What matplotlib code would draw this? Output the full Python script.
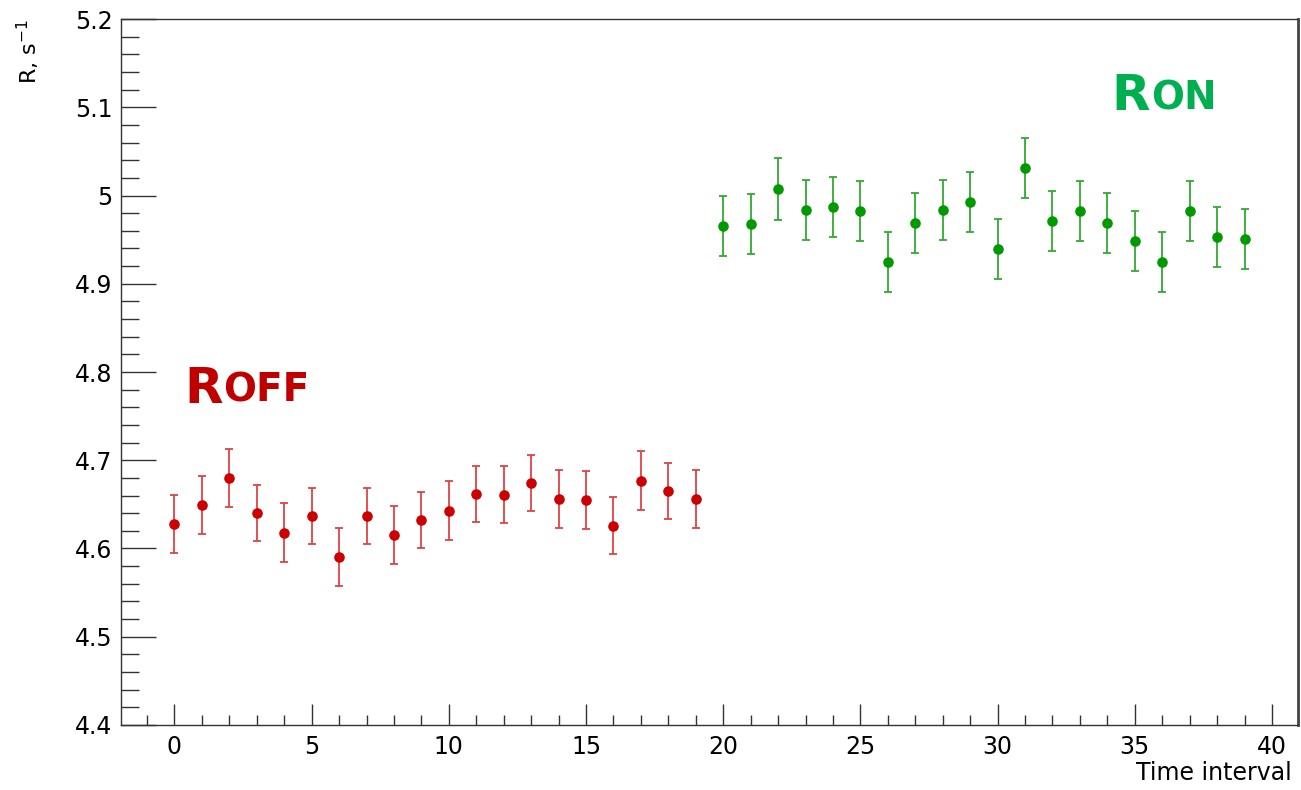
import numpy as np
import matplotlib
matplotlib.use('Agg')
import matplotlib.pyplot as plt
from matplotlib.ticker import MultipleLocator

plt.rcParams['font.family'] = ['DejaVu Sans']

##### data

t_off = list(range(0, 20))
r_off = [4.628, 4.649, 4.680, 4.640, 4.618, 4.637, 4.590, 4.637, 4.615, 4.632,
         4.643, 4.662, 4.661, 4.674, 4.656, 4.655, 4.626, 4.677, 4.665, 4.656]
e_off = [0.033, 0.033, 0.033, 0.032, 0.033, 0.032, 0.033, 0.032, 0.033, 0.032,
         0.033, 0.032, 0.032, 0.032, 0.033, 0.033, 0.032, 0.033, 0.032, 0.033]

t_on = list(range(20, 40))
r_on = [4.966, 4.968, 5.007, 4.984, 4.987, 4.983, 4.925, 4.969, 4.984, 4.993,
        4.939, 5.031, 4.971, 4.982, 4.969, 4.948, 4.925, 4.982, 4.953, 4.951]
e_on = [0.034, 0.034, 0.035, 0.034, 0.034, 0.034, 0.034, 0.034, 0.034, 0.034,
        0.034, 0.034, 0.034, 0.034, 0.034, 0.034, 0.034, 0.034, 0.034, 0.034]

##### figure

fig = plt.figure(figsize=(13.01, 7.90), dpi=100)
ax = fig.add_axes([0.0930, 0.0823, 0.9047, 0.8936])

ax.errorbar(t_off, r_off, yerr=e_off, fmt='o', color='#cc0000', ms=6.6,
            ecolor='#dd4444', elinewidth=1.3, capsize=2.8, capthick=1.3)
ax.errorbar(t_on, r_on, yerr=e_on, fmt='o', color='#009900', ms=6.6,
            ecolor='#33aa33', elinewidth=1.3, capsize=2.8, capthick=1.3)

ax.set_xlim(-1.95, 40.95)
ax.set_ylim(4.4, 5.2)

ax.xaxis.set_major_locator(MultipleLocator(5))
ax.xaxis.set_minor_locator(MultipleLocator(1))
ax.yaxis.set_major_locator(MultipleLocator(0.1))
ax.yaxis.set_minor_locator(MultipleLocator(0.02))
ax.yaxis.set_major_formatter(plt.FuncFormatter(lambda v, p: f'{v:g}'))

ax.tick_params(axis='both', which='both', direction='in', colors='#333333',
               labelcolor='black', labelsize=17, width=1.0)
ax.tick_params(axis='y', which='major', length=25, pad=6)
ax.tick_params(axis='y', which='minor', length=12.7)
ax.tick_params(axis='x', which='major', length=15, pad=7)
ax.tick_params(axis='x', which='minor', length=7.2)

for side in ['left', 'bottom', 'top']:
    ax.spines[side].set_color('#333333')
    ax.spines[side].set_linewidth(1.0)
ax.spines['right'].set_color('#444444')
ax.spines['right'].set_linewidth(2.0)

fig.text(0.022, 0.976, 'R, s$^{-1}$', rotation=90, ha='center', va='top', fontsize=16)
fig.text(1292/1301, 1 - 780/790, 'Time interval', ha='right', va='baseline', fontsize=17)

##### small caps labels

def small_caps(x, y, big, small, color):
    t1 = ax.text(x, y, big, color=color, fontsize=36, fontweight='bold',
                 va='baseline', ha='left')
    ax.annotate(small, xy=(1, 0), xycoords=t1, xytext=(0.5, 2.4),
                textcoords='offset points', color=color, fontsize=28,
                fontweight='bold', va='bottom', ha='left')

small_caps(0.36, 4.765, 'R', 'OFF', '#c00000')
small_caps(34.15, 5.0965, 'R', 'ON', '#00b050')

fig.savefig('out.png', dpi=100)
